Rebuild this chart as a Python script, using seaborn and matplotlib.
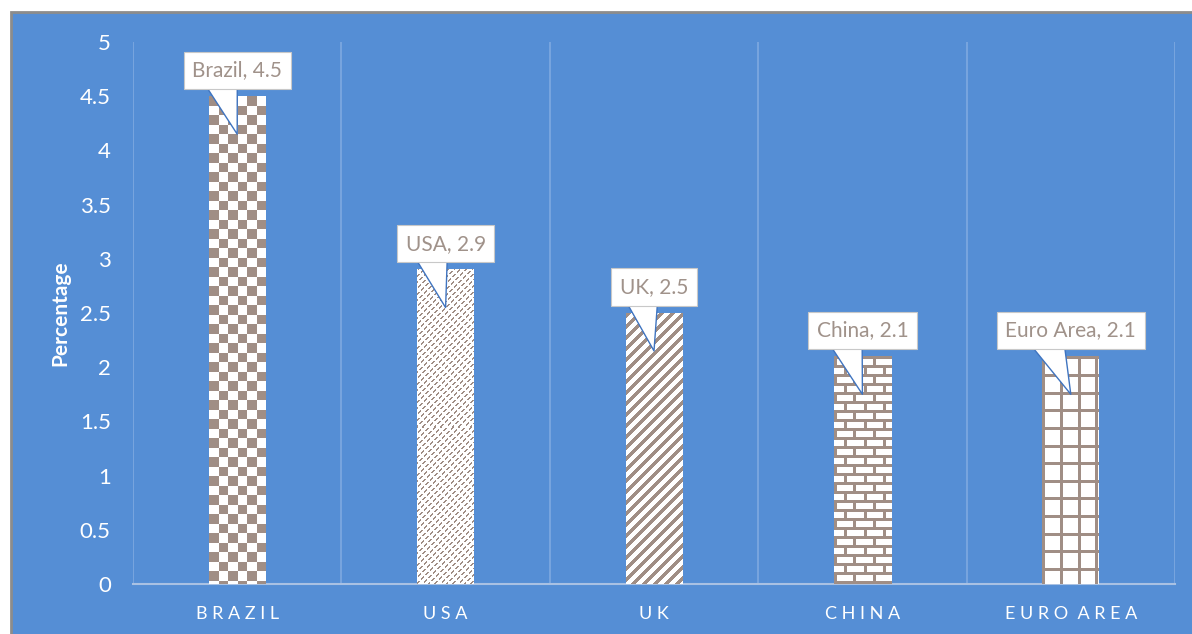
import numpy as np
import matplotlib
matplotlib.use("Agg")
import matplotlib.pyplot as plt
import seaborn as sns
import pandas as pd
from matplotlib.patches import Rectangle

# ---- data ----
countries = ["Brazil", "USA", "UK", "China", "Euro Area"]
values = [4.5, 2.9, 2.5, 2.1, 2.1]
yticks = [0, 0.5, 1, 1.5, 2, 2.5, 3, 3.5, 4, 4.5, 5]
ytick_labels = ["0", "0.5", "1", "1.5", "2", "2.5", "3", "3.5", "4", "4.5", "5"]
patterns = ["checker", "dashdiag", "widediag", "brick", "grid"]
ylabel = "Percentage"

# ---- style ----
BLUE = "#558ED5"
HATCH_RGB = (160, 142, 133)
CALLOUT_TEXT = "#A0928A"
GRID = "#7FA9E0"
BASE = "#A9C1E3"

sns.set_theme(style="white")
plt.rcParams["font.family"] = ["Lato", "DejaVu Sans"]

W, H = 1192, 634
fig = plt.figure(figsize=(W / 100, H / 100), dpi=100)
fig.patch.set_facecolor("white")
fig.add_artist(Rectangle((11 / W, -0.02), 1.1, 1 - 12 / H + 0.02,
                         transform=fig.transFigure, facecolor=BLUE,
                         edgecolor="#8C8C8C", lw=2, zorder=0))

ax = fig.add_axes([133 / W, 1 - 584 / H, (1175 - 133) / W, (584 - 42) / H])
ax.set_facecolor("none")

df = pd.DataFrame({"country": countries, "value": values})
sns.barplot(data=df, x="country", y="value", color="white", saturation=1,
            width=57 / 208.4, edgecolor="none", ax=ax, zorder=2)

ax.set_xlim(-0.5, len(countries) - 0.5)
ax.set_ylim(0, 5)

# gridlines at category boundaries
ax.set_xticks(np.arange(len(countries) + 1) - 0.5, minor=True)
ax.grid(True, which="minor", axis="x", color=GRID, lw=1.2)
ax.grid(False, which="major")
ax.tick_params(which="minor", length=0)
for s in ["top", "right", "left"]:
    ax.spines[s].set_visible(False)
ax.spines["bottom"].set_color(BASE)
ax.spines["bottom"].set_linewidth(1.5)

ax.set_yticks(yticks)
ax.set_yticklabels(ytick_labels, color="white", fontsize=16)
ax.tick_params(axis="y", length=0, pad=16)

xl = ["  ".join(" ".join(w) for w in c.upper().split()) for c in countries]
ax.set_xticks(range(len(countries)))
ax.set_xticklabels(xl, color="white", fontsize=13)
ax.tick_params(axis="x", which="major", length=0, pad=16)
ax.set_xlabel("")
ax.set_ylabel(ylabel, color="white", fontsize=15, fontweight="bold", va="center")
ax.yaxis.set_label_coords((60 - 133) / 1042, 0.5)


def texture(kind, h, w):
    i, j = np.mgrid[0:h, 0:w]
    if kind == "checker":
        m = ((np.floor(j / 9.5) + np.floor(i / 9.5)) % 2) == 0
    elif kind == "dashdiag":
        m = (((i + j) % 6) < 2) & ((((i - j) // 3) % 3) != 0)
    elif kind == "widediag":
        m = ((i + j) % 11) < 5
    elif kind == "brick":
        row = i // 9
        off = (row % 2) * 9.5
        m = ((i % 9) < 3) | (((j + off) % 19) < 3)
    else:  # grid
        m = ((i % 17.6) < 3) | ((j % 17.6) < 3)
    img = np.ones((h, w, 3))
    img[m] = np.array(HATCH_RGB) / 255.0
    return img


fig.canvas.draw()
bars = [p for p in ax.patches if p.get_height() > 0]
for p, kind in zip(bars, patterns):
    bb = p.get_window_extent()
    w = max(int(round(bb.width)), 1)
    h = max(int(round(bb.height)), 1)
    x0, y0 = p.get_x(), p.get_y()
    x1, y1 = x0 + p.get_width(), y0 + p.get_height()
    ax.imshow(texture(kind, h, w), extent=(x0, x1, y0, y1), origin="upper",
              interpolation="nearest", aspect="auto", zorder=3)

ax.set_xlim(-0.5, len(countries) - 0.5)
ax.set_ylim(0, 5)

# callouts
for k, (c, v) in enumerate(zip(countries, values)):
    ax.annotate(f"{c}, {v}", xy=(k, v - 0.35), xytext=(0, 46),
                textcoords="offset points", ha="center", va="center",
                fontsize=15, color=CALLOUT_TEXT, zorder=6,
                bbox=dict(boxstyle="square,pad=0.42", fc="white", ec="#C8C8C8", lw=0.8),
                arrowprops=dict(arrowstyle="wedge,tail_width=1.9,shrink_factor=0.5",
                                fc="white", ec="#3F74C0", lw=1, relpos=(0.29, 0.5),
                                patchA=None, shrinkA=0, shrinkB=0))

fig.savefig("out.png", dpi=100, facecolor=fig.get_facecolor())
